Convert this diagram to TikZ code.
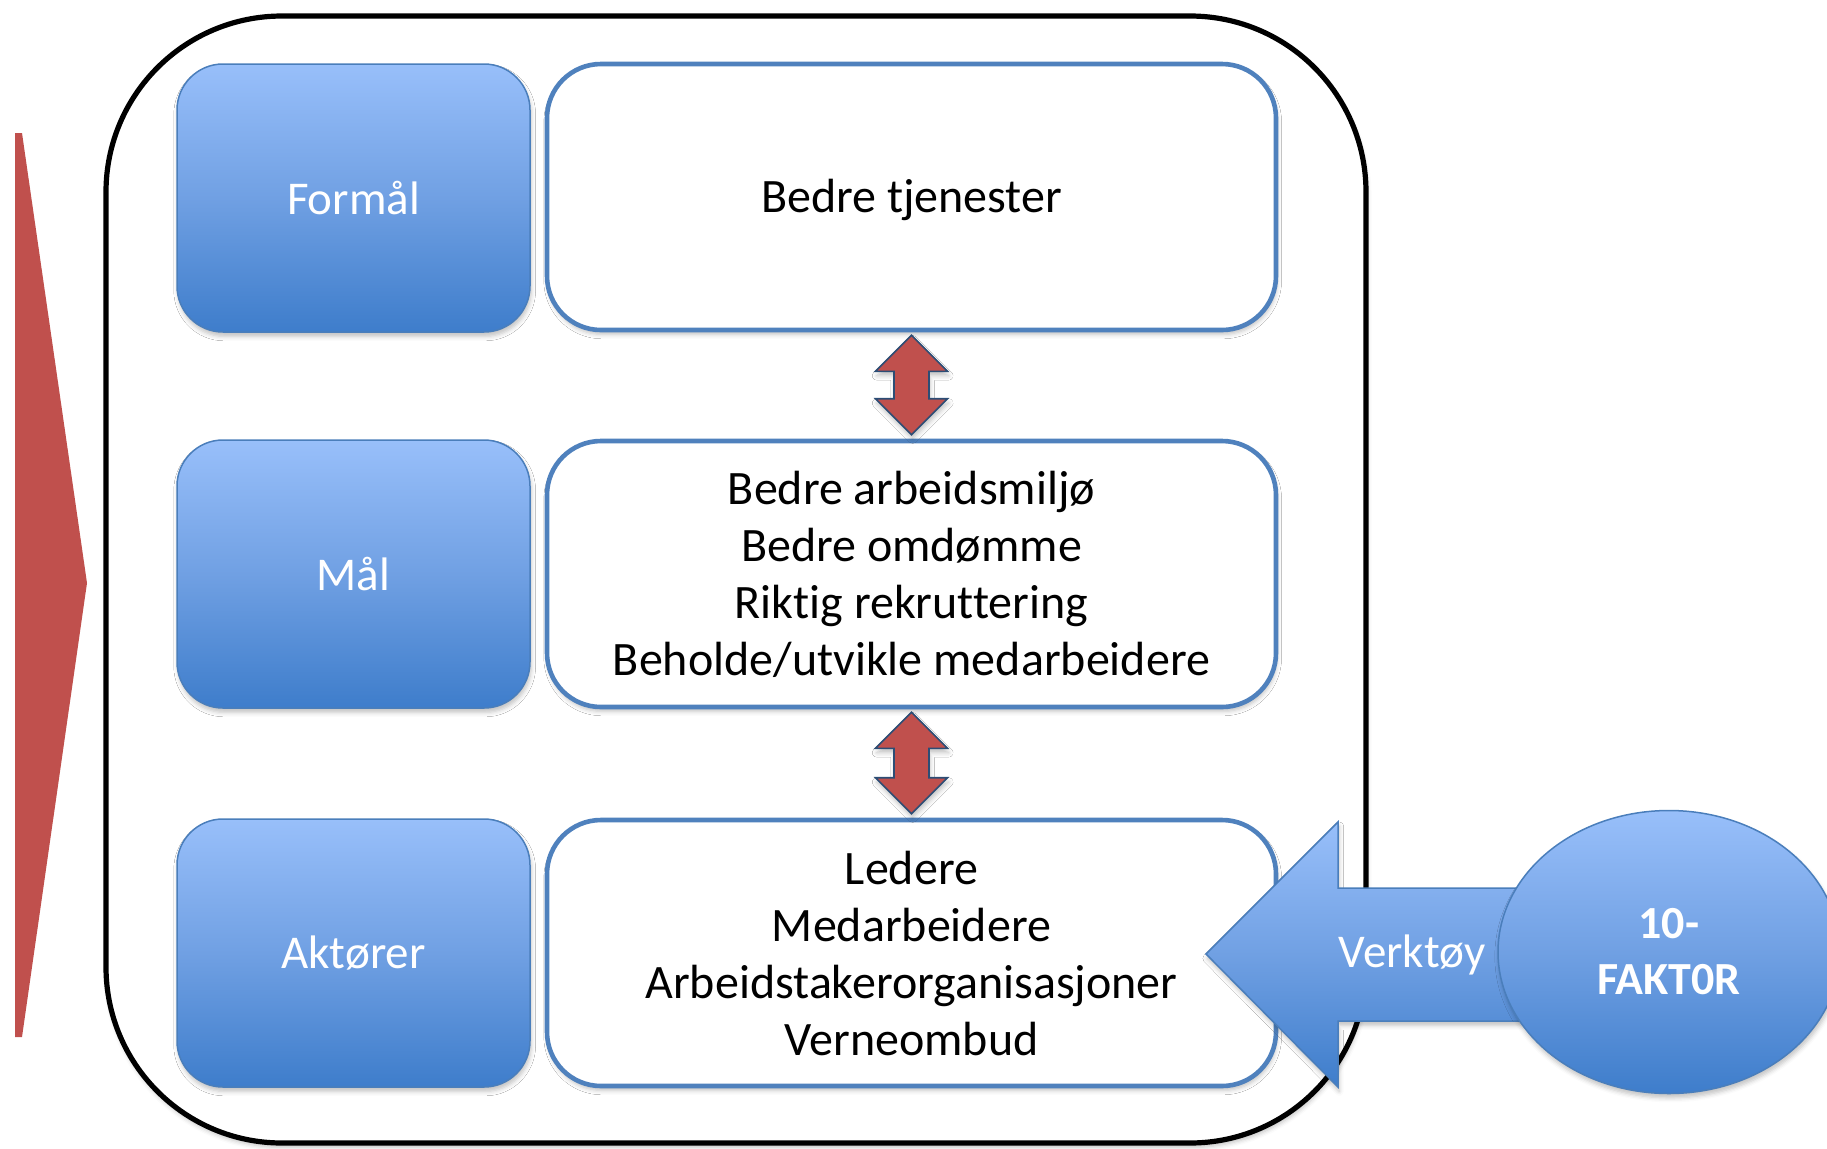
\documentclass[tikz,border=0pt]{standalone}
\usepackage{fontspec}
\setmainfont{Carlito}[Ligatures=NoCommon]
\usetikzlibrary{shapes.geometric,shadows.blur,calc}

\definecolor{bluetop}{HTML}{98BFFA}
\definecolor{bluemid}{HTML}{70A0E3}
\definecolor{bluebot}{HTML}{3E7DCB}
\definecolor{blueline}{HTML}{4A7EBB}
\definecolor{frameblue}{HTML}{4F81BD}
\definecolor{redfill}{HTML}{C0504D}
\definecolor{navy}{HTML}{2C4D75}

\tikzset{
  softshadow/.style={blur shadow={shadow xshift=0.6pt,shadow yshift=-2.2pt,
      shadow blur radius=2.2pt,shadow opacity=24}},
  bluegrad/.style={top color=bluetop,bottom color=bluebot,middle color=bluemid},
  labelbox/.style={draw=blueline,line width=0.75pt,bluegrad,rounded corners=23pt,
      minimum width=176.5pt,minimum height=134pt,inner sep=0pt,text=white,
      font=\fontsize{23.5}{28}\selectfont,softshadow},
  contentbox/.style={draw=frameblue,line width=2.3pt,fill=white,rounded corners=27pt,
      minimum width=364.5pt,minimum height=133pt,inner sep=0pt,align=center,
      font=\fontsize{24}{28.5}\selectfont,softshadow},
  biarrow/.style={fill=redfill,draw=navy,line width=0.8pt,line join=miter,softshadow},
}

% vertical two-headed block arrow between two stacked boxes
\newcommand\biarrow[2]{%
  \draw[biarrow] let \p1=($(#1)+(0,3)$), \p2=($(#2)+(0,-4)$) in
    (\x1,\y1) -- (\x1+18pt,\y1-18pt) -- (\x1+8.75pt,\y1-18pt)
    -- (\x1+8.75pt,\y2+18pt) -- (\x1+18pt,\y2+18pt) -- (\x1,\y2)
    -- (\x1-18pt,\y2+18pt) -- (\x1-8.75pt,\y2+18pt)
    -- (\x1-8.75pt,\y1-18pt) -- (\x1-18pt,\y1-18pt) -- cycle;}

\begin{document}
\begin{tikzpicture}[x=0.5pt,y=-0.5pt]
  \useasboundingbox (0,0) rectangle (1827,1148);

  % red chevron on the left
  \fill[redfill] (15,133) -- (22,133) -- (87,583) -- (22,1037) -- (15,1037) -- cycle;

  % outer frame
  \draw[line width=2.6pt,fill=white,rounded corners=88pt,softshadow]
    (106,16) rectangle (1366,1143);

  % row headings
  \node[labelbox] (l1) at (353.5,198) {Formål};
  \node[labelbox] (l2) at (353.5,574) {Mål};
  \node[labelbox] (l3) at (353.5,953) {Aktører};

  % row contents
  \node[contentbox,text depth=1.5pt] (t1) at (911.5,197) {Bedre tjenester};
  \node[contentbox] (t2) at (911.5,574) {Bedre arbeidsmiljø\\Bedre omdømme\\Riktig rekruttering\\Beholde/utvikle medarbeidere};
  \node[contentbox] (t3) at (911.5,953) {Ledere\\Medarbeidere\\Arbeidstakerorganisasjoner\\Verneombud};

  % links between rows
  \biarrow{t1.south}{t2.north}
  \biarrow{t2.south}{t3.north}

  % tool arrow into the actors row
  \shade[draw=blueline,line width=0.75pt,bluegrad,softshadow]
    (1206,954) -- (1338,822) -- (1338,888) -- (1545,888) -- (1545,1021)
    -- (1338,1021) -- (1338,1087) -- cycle;
  \node[text=white,font=\fontsize{23.5}{28}\selectfont] (verktoy) at (1412,955) {Verktøy};

  % source of the tool
  \node[ellipse,draw=blueline,line width=0.75pt,bluegrad,minimum width=171pt,
        minimum height=141.5pt,inner sep=0pt,text=white,align=center,
        font=\bfseries\fontsize{23}{28}\selectfont,softshadow]
    (faktor) at (1669,952) {10-\\FAKT0R};
\end{tikzpicture}
\end{document}
